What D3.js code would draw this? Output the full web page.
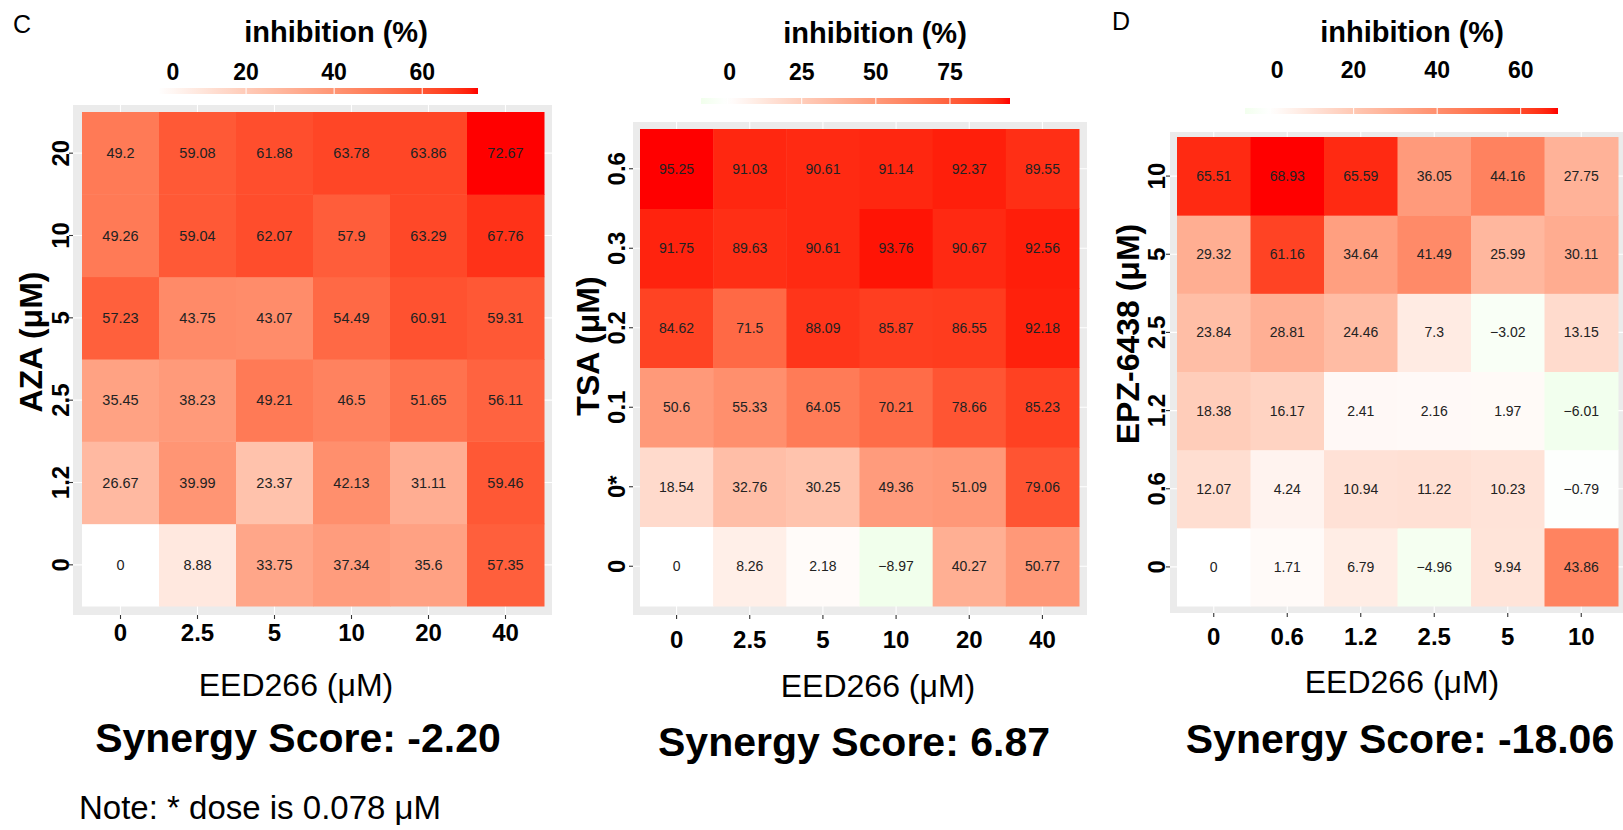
<!DOCTYPE html>
<html>
<head>
<meta charset="utf-8">
<script src="https://cdn.jsdelivr.net/npm/d3@7"></script>
<style>
  body { margin: 0; background: #ffffff; }
  svg { display: block; }
  text { font-family: 'Liberation Sans', Arial, Helvetica, sans-serif; }
</style>
</head>
<body>
<svg id="fig" width="1623" height="830"></svg>
<script>
// ---- dose labels (µM) ----
const eedDosesWide = ["0", "2.5", "5", "10", "20", "40"];
const eedDosesNarrow = ["0", "0.6", "1.2", "2.5", "5", "10"];
const azaDoses = ["0", "1.2", "2.5", "5", "10", "20"];
const tsaDoses = ["0", "0*", "0.1", "0.2", "0.3", "0.6"];
const epzDoses = ["0", "0.6", "1.2", "2.5", "5", "10"];

// ---- inhibition (%), one row per partner dose, lowest dose first ----
const azaInhibition = [
  [0, 8.88, 33.75, 37.34, 35.6, 57.35],
  [26.67, 39.99, 23.37, 42.13, 31.11, 59.46],
  [35.45, 38.23, 49.21, 46.5, 51.65, 56.11],
  [57.23, 43.75, 43.07, 54.49, 60.91, 59.31],
  [49.26, 59.04, 62.07, 57.9, 63.29, 67.76],
  [49.2, 59.08, 61.88, 63.78, 63.86, 72.67]
];
const tsaInhibition = [
  [0, 8.26, 2.18, -8.97, 40.27, 50.77],
  [18.54, 32.76, 30.25, 49.36, 51.09, 79.06],
  [50.6, 55.33, 64.05, 70.21, 78.66, 85.23],
  [84.62, 71.5, 88.09, 85.87, 86.55, 92.18],
  [91.75, 89.63, 90.61, 93.76, 90.67, 92.56],
  [95.25, 91.03, 90.61, 91.14, 92.37, 89.55]
];
const epzInhibition = [
  [0, 1.71, 6.79, -4.96, 9.94, 43.86],
  [12.07, 4.24, 10.94, 11.22, 10.23, -0.79],
  [18.38, 16.17, 2.41, 2.16, 1.97, -6.01],
  [23.84, 28.81, 24.46, 7.3, -3.02, 13.15],
  [29.32, 61.16, 34.64, 41.49, 25.99, 30.11],
  [65.51, 68.93, 65.59, 36.05, 44.16, 27.75]
];

// ---- colour-bar breaks and synergy scores ----
const azaLegendBreaks = [0, 20, 40, 60];
const tsaLegendBreaks = [0, 25, 50, 75];
const epzLegendBreaks = [0, 20, 40, 60];
const synergyScores = ["-2.20", "6.87", "-18.06"];

// ---- panel definitions: data references plus placement ----
const panels = [
  {
    values: azaInhibition, xDoses: eedDosesWide, yDoses: azaDoses,
    yTitle: "AZA (\u03bcM)", breaks: azaLegendBreaks, score: synergyScores[0],
    bg: [73, 552, 105, 615], tiles: [82, 544, 112, 606],
    yTickBase: 69, yTitleX: 42, yTitleY: 342,
    xTickBase: 641, xTitleX: 296, xTitleBase: 696, scoreX: 298, scoreBase: 752,
    legTitleX: 336, legTitleBase: 42, legLabelBase: 80, legBar: [158, 478, 88, 94], zeroDx: 15
  },
  {
    values: tsaInhibition, xDoses: eedDosesWide, yDoses: tsaDoses,
    yTitle: "TSA (\u03bcM)", breaks: tsaLegendBreaks, score: synergyScores[1],
    bg: [633, 1087, 122, 615], tiles: [640, 1079, 129, 606],
    yTickBase: 625, yTitleX: 599, yTitleY: 346,
    xTickBase: 648, xTitleX: 878, xTitleBase: 697, scoreX: 854, scoreBase: 756,
    legTitleX: 875, legTitleBase: 43, legLabelBase: 80, legBar: [701, 1010, 98, 104], zeroDx: 2
  },
  {
    values: epzInhibition, xDoses: eedDosesNarrow, yDoses: epzDoses,
    yTitle: "EPZ-6438 (\u03bcM)", breaks: epzLegendBreaks, score: synergyScores[2],
    bg: [1170, 1626, 132, 613], tiles: [1177, 1618, 137, 606],
    yTickBase: 1165, yTitleX: 1139, yTitleY: 334,
    xTickBase: 645, xTitleX: 1402, xTitleBase: 693, scoreX: 1400, scoreBase: 753,
    legTitleX: 1412, legTitleBase: 42, legLabelBase: 78, legBar: [1245, 1558, 108, 114], zeroDx: 7
  }
];

const svg = d3.select("#fig");
const defs = svg.append("defs");
const fmt = v => (v < 0 ? "\u2212" + Math.abs(v) : String(v));

// diverging fill: green (low) - white (0) - red (high), Lab interpolation, symmetric about 0
function makeFill(values) {
  const flat = values.flat();
  const maxAbs = d3.max(flat, v => Math.abs(v));
  const up = d3.interpolateLab("#ffffff", "#ff0000");
  const down = d3.interpolateLab("#ffffff", "#00ff00");
  return v => (v >= 0 ? up(v / maxAbs) : down(-v / maxAbs));
}

panels.forEach((p, pi) => {
  const g = svg.append("g");
  const fill = makeFill(p.values);
  const [bx0, bx1, by0, by1] = p.bg;
  const [tx0, tx1, ty0, ty1] = p.tiles;

  const x = d3.scaleBand().domain(p.xDoses).range([tx0, tx1]).padding(0);
  const y = d3.scaleBand().domain(p.yDoses).range([ty1, ty0]).padding(0);

  // panel background
  g.append("rect").attr("x", bx0).attr("y", by0)
    .attr("width", bx1 - bx0).attr("height", by1 - by0).attr("fill", "#ebebeb");

  // major grid lines
  g.selectAll(".vgrid").data(p.xDoses).join("line")
    .attr("x1", d => x(d) + x.bandwidth() / 2).attr("x2", d => x(d) + x.bandwidth() / 2)
    .attr("y1", by0).attr("y2", by1).attr("stroke", "#ffffff").attr("stroke-width", 1.1);
  g.selectAll(".hgrid").data(p.yDoses).join("line")
    .attr("y1", d => y(d) + y.bandwidth() / 2).attr("y2", d => y(d) + y.bandwidth() / 2)
    .attr("x1", bx0).attr("x2", bx1).attr("stroke", "#ffffff").attr("stroke-width", 1.1);

  // cells
  const cells = [];
  p.values.forEach((row, ri) => row.forEach((v, ci) => {
    cells.push({ xd: p.xDoses[ci], yd: p.yDoses[ri], v });
  }));
  g.selectAll(".tile").data(cells).join("rect")
    .attr("x", d => x(d.xd)).attr("y", d => y(d.yd))
    .attr("width", x.bandwidth() + 0.5).attr("height", y.bandwidth() + 0.5)
    .attr("fill", d => fill(d.v));
  g.selectAll(".cellText").data(cells).join("text")
    .attr("x", d => x(d.xd) + x.bandwidth() / 2)
    .attr("y", d => y(d.yd) + y.bandwidth() / 2)
    .attr("dy", "0.36em").attr("text-anchor", "middle")
    .attr("font-size", pi === 0 ? 14.5 : 14).attr("fill", "#222222")
    .text(d => fmt(d.v));

  // x axis
  const xAxis = g.append("g").attr("transform", `translate(0,${by1})`)
    .call(d3.axisBottom(x).tickSize(4).tickSizeOuter(0));
  xAxis.select(".domain").remove();
  xAxis.selectAll(".tick line").attr("stroke", "#333333").attr("stroke-width", 1.1);
  xAxis.selectAll(".tick text")
    .attr("y", p.xTickBase - by1).attr("dy", null)
    .attr("font-size", 24).attr("font-weight", "bold").attr("fill", "#000000")
    .attr("font-family", "'Liberation Sans', Arial, sans-serif");

  // y axis (labels turned upright along the axis)
  const yAxis = g.append("g").attr("transform", `translate(${bx0},0)`)
    .call(d3.axisLeft(y).tickSize(4).tickSizeOuter(0));
  yAxis.select(".domain").remove();
  yAxis.selectAll(".tick line").attr("stroke", "#333333").attr("stroke-width", 1.1);
  yAxis.selectAll(".tick text")
    .attr("x", null).attr("dy", null).attr("text-anchor", "middle")
    .attr("transform", `translate(${p.yTickBase - bx0},0) rotate(-90)`)
    .attr("font-size", 24).attr("font-weight", "bold").attr("fill", "#000000")
    .attr("font-family", "'Liberation Sans', Arial, sans-serif");

  // axis titles
  g.append("text").attr("x", p.xTitleX).attr("y", p.xTitleBase)
    .attr("text-anchor", "middle").attr("font-size", 32).attr("fill", "#000")
    .text("EED266 (\u03bcM)");
  g.append("text").attr("transform", `translate(${p.yTitleX},${p.yTitleY}) rotate(-90)`)
    .attr("text-anchor", "middle").attr("font-size", 32).attr("font-weight", "bold")
    .attr("fill", "#000").text(p.yTitle);

  // synergy score
  g.append("text").attr("x", p.scoreX).attr("y", p.scoreBase)
    .attr("text-anchor", "middle").attr("font-size", 41).attr("font-weight", "bold")
    .attr("fill", "#000").text("Synergy Score: " + p.score);

  // colour bar legend
  const flat = p.values.flat();
  const vmin = d3.min(flat), vmax = d3.max(flat);
  const [lx0, lx1, ly0, ly1] = p.legBar;
  const lx = d3.scaleLinear().domain([vmin, vmax]).range([lx0, lx1]);
  const gradId = "bar" + pi;
  const grad = defs.append("linearGradient").attr("id", gradId)
    .attr("x1", "0%").attr("x2", "100%").attr("y1", "0%").attr("y2", "0%");
  d3.range(0, 41).forEach(i => {
    const t = i / 40;
    grad.append("stop").attr("offset", (t * 100) + "%")
      .attr("stop-color", fill(vmin + t * (vmax - vmin)));
  });
  g.append("rect").attr("x", lx0).attr("y", ly0)
    .attr("width", lx1 - lx0).attr("height", ly1 - ly0).attr("fill", `url(#${gradId})`);
  g.selectAll(".legTick").data(p.breaks).join("line")
    .attr("x1", d => lx(d)).attr("x2", d => lx(d))
    .attr("y1", ly0).attr("y2", ly1).attr("stroke", "#ffffff").attr("stroke-width", 1);
  g.selectAll(".legLabel").data(p.breaks).join("text")
    .attr("x", (d, i) => lx(d) + (i === 0 ? p.zeroDx : 0)).attr("y", p.legLabelBase)
    .attr("text-anchor", "middle").attr("font-size", 23).attr("font-weight", "bold")
    .attr("fill", "#000").text(d => d);
  g.append("text").attr("x", p.legTitleX).attr("y", p.legTitleBase)
    .attr("text-anchor", "middle").attr("font-size", 29).attr("font-weight", "bold")
    .attr("fill", "#000").text("inhibition (%)");
});

// panel letters and footnote
svg.append("text").attr("x", 13).attr("y", 33).attr("font-size", 25).attr("fill", "#000").text("C");
svg.append("text").attr("x", 1112).attr("y", 30).attr("font-size", 25).attr("fill", "#000").text("D");
svg.append("text").attr("x", 79).attr("y", 819).attr("font-size", 33).attr("fill", "#000")
  .text("Note: * dose is 0.078 \u03bcM");
</script>
</body>
</html>
